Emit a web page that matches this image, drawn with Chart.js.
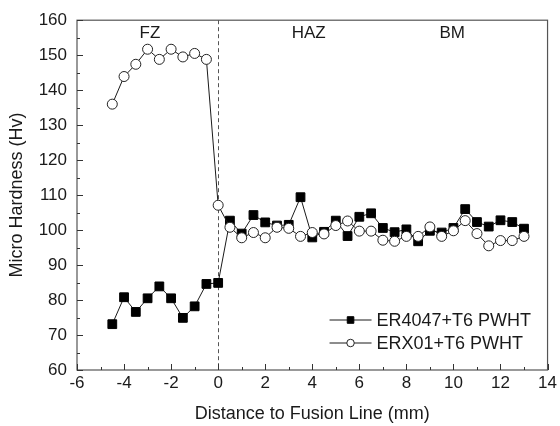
<!DOCTYPE html>
<html>
<head>
<meta charset="utf-8">
<script src="https://cdn.jsdelivr.net/npm/chart.js@4/dist/chart.umd.min.js"></script>
<style>
  html, body { margin: 0; padding: 0; background: #fff; }
  #wrap { width: 560px; height: 426px; }
</style>
</head>
<body>
<div id="wrap"><canvas id="chart" width="560" height="426"></canvas></div>
<script>
// distance to fusion line (mm), one point every 0.5 mm
const distances = [-4.5, -4, -3.5, -3, -2.5, -2, -1.5, -1, -0.5, 0, 0.5, 1, 1.5, 2, 2.5, 3, 3.5, 4, 4.5, 5, 5.5, 6, 6.5, 7, 7.5, 8, 8.5, 9, 9.5, 10, 10.5, 11, 11.5, 12, 12.5, 13];
// micro hardness values (Hv)
const er4047 = [73.1, 80.8, 76.6, 80.5, 83.9, 80.5, 74.9, 78.2, 84.6, 84.9, 102.7, 99.0, 104.3, 102.2, 101.3, 101.5, 109.4, 97.9, 99.5, 102.7, 98.3, 103.8, 104.8, 100.6, 99.4, 100.2, 96.8, 99.8, 99.3, 100.6, 106.0, 102.3, 101.0, 102.8, 102.3, 100.4];
const erx01 = [136.0, 143.9, 147.4, 151.7, 148.8, 151.7, 149.5, 150.5, 148.8, 107.1, 100.8, 97.8, 99.3, 97.8, 100.8, 100.5, 98.2, 99.3, 98.9, 101.3, 102.6, 99.7, 99.7, 97.1, 96.8, 98.2, 98.2, 100.9, 98.2, 99.8, 102.7, 99.0, 95.5, 97.0, 97.0, 98.2];
const seriesNames = ['ER4047+T6 PWHT', 'ERX01+T6 PWHT'];
// zone labels along the top of the plot
const zoneNames = ['FZ', 'HAZ', 'BM'];
const zoneX = [-2.9, 3.85, 9.95];
const zoneY = 156.3;

const FONT = '"Liberation Sans", Arial, sans-serif';
const INK = '#1a1a1a';

function toPoints(ys) {
    return distances.map((x, i) => ({ x: x, y: ys[i] }));
}

// frame, inward ticks, fusion line, zone labels and legend
const decorations = {
    id: 'decorations',
    beforeDatasetsDraw(chart) {
        const { ctx, chartArea: a, scales: { x } } = chart;
        ctx.save();
        // dashed fusion line at x = 0
        ctx.strokeStyle = '#555';
        ctx.lineWidth = 1;
        ctx.setLineDash([4, 3]);
        const x0 = Math.round(x.getPixelForValue(0)) + 0.5;
        ctx.beginPath();
        ctx.moveTo(x0, a.top);
        ctx.lineTo(x0, a.bottom);
        ctx.stroke();
        ctx.restore();
    },
    afterDatasetsDraw(chart) {
        const { ctx, chartArea: a, scales: { x, y } } = chart;
        ctx.save();
        ctx.strokeStyle = '#555';
        ctx.lineWidth = 1.2;
        ctx.strokeRect(a.left, a.top, a.right - a.left, a.bottom - a.top);

        // ticks pointing into the plot
        ctx.strokeStyle = '#333';
        ctx.lineWidth = 1;
        ctx.beginPath();
        for (let v = -6; v <= 14; v += 1) {
            const px = Math.round(x.getPixelForValue(v)) + 0.5;
            const len = v % 2 === 0 ? 6 : 3;
            ctx.moveTo(px, a.bottom);
            ctx.lineTo(px, a.bottom - len);
        }
        for (let v = 60; v <= 160; v += 5) {
            const py = Math.round(y.getPixelForValue(v)) + 0.5;
            const len = v % 10 === 0 ? 6 : 3;
            ctx.moveTo(a.left, py);
            ctx.lineTo(a.left + len, py);
        }
        ctx.stroke();

        // zone labels
        ctx.fillStyle = INK;
        ctx.font = '17px ' + FONT;
        ctx.textAlign = 'center';
        ctx.textBaseline = 'middle';
        zoneNames.forEach((name, i) => {
            ctx.fillText(name, x.getPixelForValue(zoneX[i]), y.getPixelForValue(zoneY));
        });

        // legend: line through marker, then text
        const lx = a.right - 218;
        const rows = [a.bottom - 50, a.bottom - 27];
        chart.data.datasets.forEach((ds, i) => {
            const ly = rows[i];
            const r = ds.pointRadius * 0.75;
            ctx.strokeStyle = ds.borderColor;
            ctx.lineWidth = 1;
            ctx.beginPath();
            ctx.moveTo(lx, ly);
            ctx.lineTo(lx + 42, ly);
            ctx.stroke();
            ctx.fillStyle = ds.pointBackgroundColor;
            ctx.strokeStyle = ds.pointBorderColor;
            ctx.beginPath();
            if (ds.pointStyle === 'rect') {
                const s = r * Math.SQRT1_2;
                ctx.rect(lx + 21 - s, ly - s, 2 * s, 2 * s);
            } else {
                ctx.arc(lx + 21, ly, r, 0, Math.PI * 2);
            }
            ctx.fill();
            ctx.stroke();
            ctx.fillStyle = INK;
            ctx.font = '18px ' + FONT;
            ctx.textAlign = 'left';
            ctx.fillText(seriesNames[i], lx + 47, ly + 1);
        });
        ctx.restore();
    }
};

new Chart(document.getElementById('chart').getContext('2d'), {
    type: 'scatter',
    data: {
        datasets: [
            {
                label: seriesNames[0],
                data: toPoints(er4047),
                showLine: true,
                borderColor: INK,
                borderWidth: 1,
                pointStyle: 'rect',
                pointRadius: 6.2,
                pointBackgroundColor: '#000',
                pointBorderColor: '#000',
                pointBorderWidth: 1,
                order: 2
            },
            {
                label: seriesNames[1],
                data: toPoints(erx01),
                showLine: true,
                borderColor: INK,
                borderWidth: 1,
                pointStyle: 'circle',
                pointRadius: 5,
                pointBackgroundColor: '#fff',
                pointBorderColor: '#222',
                pointBorderWidth: 1,
                order: 1
            }
        ]
    },
    options: {
        responsive: false,
        animation: false,
        layout: { padding: { top: 20, right: 9, left: 0, bottom: 0 } },
        plugins: {
            legend: { display: false },
            tooltip: { enabled: false }
        },
        scales: {
            x: {
                type: 'linear',
                min: -6,
                max: 14,
                grid: { display: false, drawTicks: false },
                border: { display: false },
                ticks: { stepSize: 2, padding: 3, color: INK, font: { family: FONT, size: 17 } },
                title: {
                    display: true,
                    text: 'Distance to Fusion Line (mm)',
                    color: INK,
                    font: { family: FONT, size: 18 },
                    padding: { top: 0, bottom: 1 }
                },
                afterFit(scale) { scale.height = 56; }
            },
            y: {
                min: 60,
                max: 160,
                grid: { display: false, drawTicks: false },
                border: { display: false },
                ticks: { stepSize: 10, padding: 10, color: INK, font: { family: FONT, size: 17 } },
                title: {
                    display: true,
                    text: 'Micro Hardness (Hv)',
                    color: INK,
                    font: { family: FONT, size: 18 },
                    padding: { top: 6, bottom: 0 }
                },
                afterFit(scale) { scale.width = 77; }
            }
        }
    },
    plugins: [decorations]
});
</script>
</body>
</html>
